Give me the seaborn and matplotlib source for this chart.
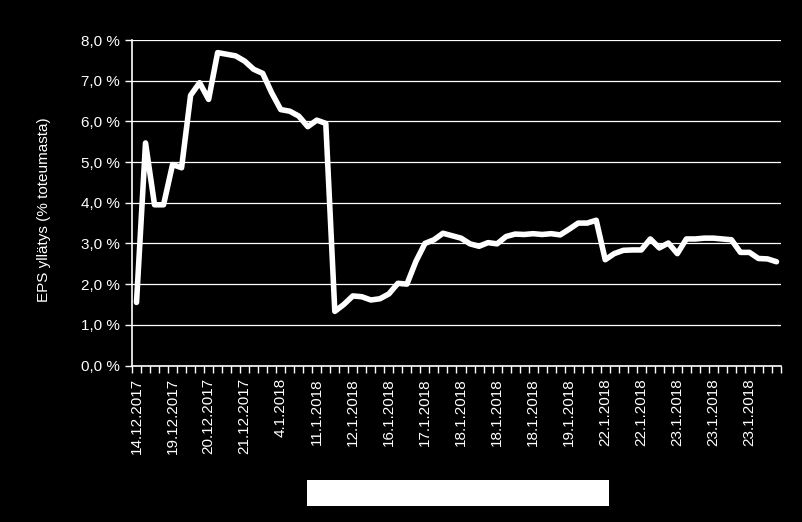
import numpy as np
import pandas as pd
import seaborn as sns
import matplotlib.pyplot as plt
from matplotlib.patches import Rectangle
from matplotlib.ticker import FuncFormatter, FixedLocator

eps_surprise = [1.55, 5.47, 3.95, 3.95, 4.94, 4.86, 6.64, 6.95, 6.54, 7.69,
                7.65, 7.61, 7.48, 7.28, 7.18, 6.70, 6.29, 6.25, 6.13, 5.87,
                6.03, 5.95, 1.33, 1.50, 1.71, 1.69, 1.61, 1.64, 1.76, 2.02,
                2.00, 2.56, 3.00, 3.09, 3.25, 3.19, 3.13, 2.99, 2.93, 3.02,
                2.99, 3.17, 3.23, 3.22, 3.24, 3.22, 3.24, 3.21, 3.35, 3.50,
                3.50, 3.57, 2.60, 2.75, 2.83, 2.84, 2.84, 3.11, 2.89, 3.01,
                2.75, 3.11, 3.11, 3.13, 3.13, 3.11, 3.09, 2.78, 2.78, 2.63,
                2.62, 2.55]

# every 4th observation carries a date label
tick_labels = ['14.12.2017', '19.12.2017', '20.12.2017', '21.12.2017',
               '4.1.2018', '11.1.2018', '12.1.2018', '16.1.2018', '17.1.2018',
               '18.1.2018', '18.1.2018', '18.1.2018', '19.1.2018', '22.1.2018',
               '22.1.2018', '23.1.2018', '23.1.2018', '23.1.2018']

y_label = 'EPS yllätys (% toteumasta)'

df = pd.DataFrame({'n': np.arange(len(eps_surprise)), 'eps': eps_surprise})

sns.set_style('dark')
plt.rcParams['font.family'] = ['Liberation Sans', 'DejaVu Sans']

fig = plt.figure(figsize=(8.03, 5.22), dpi=100, facecolor='black')
ax = fig.add_axes([132/803, 1 - 365.5/522, 649/803, 325.5/522])
ax.set_facecolor('black')

sns.lineplot(data=df, x='n', y='eps', ax=ax, color='white', linewidth=4,
             solid_joinstyle='round', solid_capstyle='round')

ax.set_xlim(-0.5, len(eps_surprise) - 0.5)
ax.set_ylim(0, 8)

# y axis
ax.set_yticks(np.arange(0, 8.01, 1))
ax.yaxis.set_major_formatter(FuncFormatter(lambda v, p: f'{v:.1f} %'.replace('.', ',')))
ax.grid(axis='y', color='white', linewidth=0.9)
ax.grid(axis='x', visible=False)
ax.set_axisbelow(True)

# x axis: labels on every 4th point, tick marks between categories
ax.xaxis.set_major_locator(FixedLocator(np.arange(0, len(eps_surprise), 4)))
ax.set_xticklabels(tick_labels, rotation=90)
ax.xaxis.set_minor_locator(FixedLocator(np.arange(-0.5, len(eps_surprise), 1)))
ax.tick_params(axis='x', which='major', length=0, pad=9, labelsize=11, colors='white')
ax.tick_params(axis='x', which='minor', length=5, width=1, color='white', direction='out', bottom=True)
ax.tick_params(axis='y', length=5, width=1, color='white', labelsize=11,
               labelcolor='white', direction='out', left=True, pad=4)

ax.set_xlabel('')
ax.set_ylabel(y_label, color='white', fontsize=11)
ax.yaxis.set_label_coords(-0.125, 0.48)

for side in ['top', 'right']:
    ax.spines[side].set_visible(False)
for side in ['left', 'bottom']:
    ax.spines[side].set_visible(True)
    ax.spines[side].set_color('white')
    ax.spines[side].set_linewidth(1.2)

# white box below the chart
fig.patches.append(Rectangle((306.7/803, 1 - 505.7/522), 302.3/803, 25.7/522,
                             transform=fig.transFigure, facecolor='white',
                             edgecolor='none', zorder=5))

fig.savefig('out.png', dpi=100, facecolor='black')
